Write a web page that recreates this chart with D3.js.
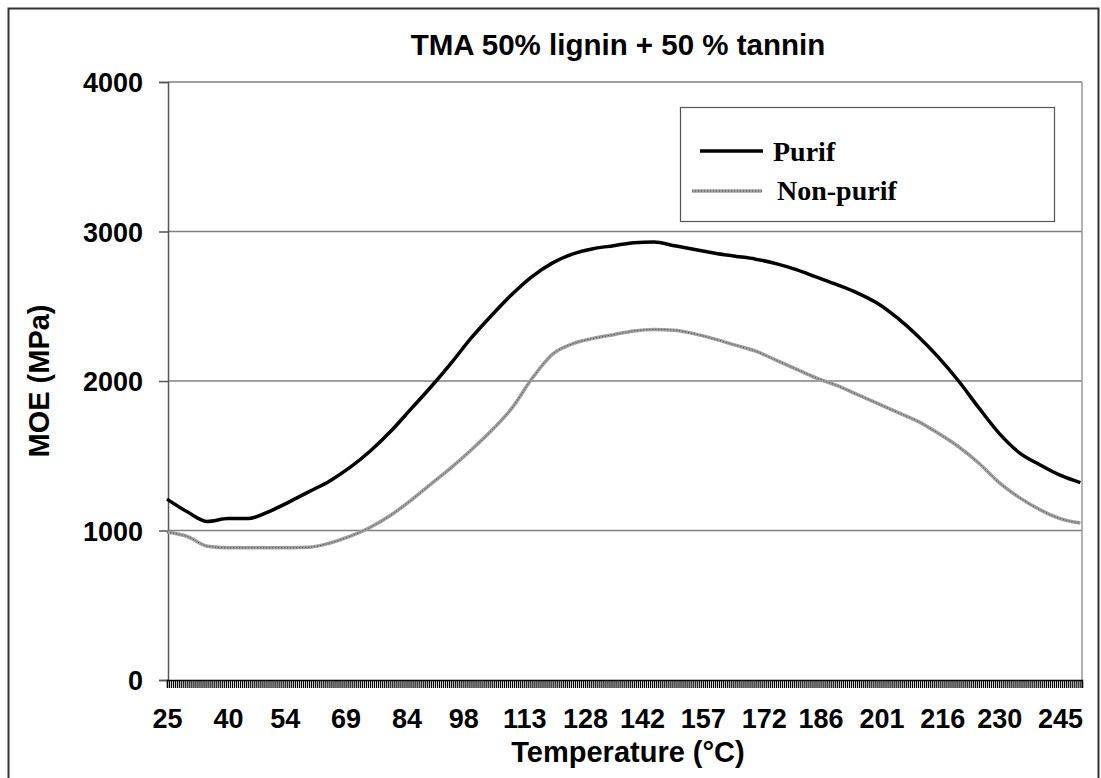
<!DOCTYPE html>
<html lang="en">
<head>
<meta charset="utf-8">
<title>TMA 50% lignin + 50 % tannin</title>
<script src="https://cdn.jsdelivr.net/npm/d3@7"></script>
<style>
  body { margin: 0; background: #fff; }
  text { font-family: Arial, "Liberation Sans", sans-serif; font-weight: bold; fill: #000; }
  .legend text { font-family: "Times New Roman", "Liberation Serif", serif; }
</style>
</head>
<body>
<script>
// temperature (°C) of each sample
var temps = [25, 30, 35, 40, 45, 50, 55, 60, 65, 70, 75, 80, 85, 90, 95, 100,
             105, 110, 115, 120, 125, 130, 135, 140, 145, 150, 155, 160, 165, 170,
             175, 180, 185, 190, 195, 200, 205, 210, 215, 220, 225, 230, 235, 240, 245, 250];
// MOE (MPa)
var purif = [1210, 1125, 1060, 1080, 1080, 1125, 1190, 1260, 1330, 1420, 1530, 1660, 1810, 1960, 2120,
             2290, 2440, 2580, 2700, 2790, 2850, 2885, 2905, 2925, 2930, 2905, 2880, 2855, 2835, 2815,
             2785, 2745, 2695, 2645, 2590, 2520, 2420, 2300, 2160, 2000, 1820, 1650, 1520, 1440, 1370, 1320];
var nonPurif = [990, 960, 895, 885, 885, 885, 885, 888, 915, 960, 1020, 1100, 1200, 1310, 1420,
                1540, 1670, 1820, 2020, 2180, 2250, 2285, 2310, 2335, 2345, 2340, 2315, 2280, 2240, 2200,
                2140, 2080, 2020, 1970, 1910, 1850, 1790, 1730, 1650, 1560, 1450, 1320, 1220, 1140, 1080, 1050];
var xTickLabels = [25, 40, 54, 69, 84, 98, 113, 128, 142, 157, 172, 186, 201, 216, 230, 245];
var yTicks = [0, 1000, 2000, 3000, 4000];
var seriesNames = ["Purif", "Non-purif"];

var W = 1101, H = 778;
var plotLeft = 168, plotRight = 1082, plotTop = 82, plotBottom = 680;

var svg = d3.select("body").append("svg")
    .attr("width", W)
    .attr("height", H);

// outer chart border (bottom runs off the picture)
svg.append("rect")
    .attr("x", 8.5).attr("y", 8.5)
    .attr("width", 1090).attr("height", 800)
    .attr("fill", "none")
    .attr("stroke", "#333")
    .attr("stroke-width", 2);

// the category axis ends a little after the last data point
var x = d3.scaleLinear().domain([25, 250.4]).range([plotLeft - 1, plotRight]);
var y = d3.scaleLinear().domain([0, 4000]).range([plotBottom, plotTop]);

// gridlines
svg.append("g")
    .selectAll("line")
    .data(yTicks.filter(function(d) { return d > 0; }))
    .enter().append("line")
    .attr("x1", plotLeft).attr("x2", plotRight)
    .attr("y1", function(d) { return y(d); })
    .attr("y2", function(d) { return y(d); })
    .attr("stroke", "#808080")
    .attr("stroke-width", 1.5);

// plot area right edge
svg.append("line")
    .attr("x1", plotRight).attr("x2", plotRight)
    .attr("y1", plotTop).attr("y2", plotBottom)
    .attr("stroke", "#999")
    .attr("stroke-width", 1.5);

// y axis
var yAxis = svg.append("g")
    .attr("transform", "translate(" + plotLeft + ",0)")
    .call(d3.axisLeft(y).tickValues(yTicks).tickSize(9).tickPadding(16).tickFormat(d3.format("d")));
yAxis.select(".domain").attr("stroke", "#555").attr("stroke-width", 1.5);
yAxis.selectAll(".tick line").attr("stroke", "#555").attr("stroke-width", 1.5);
yAxis.selectAll("text").style("font-size", "27px").attr("dy", "0.36em");

// x axis: dense category ticks, labels every ~14.7 °C
var minor = d3.range(25, 250.4, 0.5);
var xMinor = svg.append("g")
    .attr("transform", "translate(0," + plotBottom + ")")
    .call(d3.axisBottom(x).tickValues(minor).tickSize(8).tickFormat(""));
xMinor.select(".domain").attr("stroke", "#000").attr("stroke-width", 1.5);
xMinor.selectAll(".tick line").attr("stroke", "#000").attr("stroke-width", 1.2);

var xLab = svg.append("g")
    .attr("transform", "translate(0," + plotBottom + ")")
    .call(d3.axisBottom(x).tickValues(xTickLabels).tickSize(0).tickPadding(40).tickFormat(d3.format("d")));
xLab.select(".domain").remove();
xLab.selectAll("text").style("font-size", "27px").attr("dy", "0.3em");

// lines
var line = d3.line()
    .x(function(d, i) { return x(temps[i]); })
    .y(function(d) { return y(d); })
    .curve(d3.curveMonotoneX);

svg.append("path")
    .datum(nonPurif)
    .attr("d", line)
    .attr("fill", "none")
    .attr("stroke", "#a0a0a0")
    .attr("stroke-width", 3.5);
svg.append("path")
    .datum(nonPurif)
    .attr("d", line)
    .attr("fill", "none")
    .attr("stroke", "#444")
    .attr("stroke-width", 1)
    .attr("stroke-dasharray", "1,2");

svg.append("path")
    .datum(purif)
    .attr("d", line)
    .attr("fill", "none")
    .attr("stroke", "#000")
    .attr("stroke-width", 3.5)
    .attr("stroke-linejoin", "round");

// title and axis titles
svg.append("text")
    .attr("x", 618).attr("y", 55)
    .attr("text-anchor", "middle")
    .style("font-size", "29.5px")
    .text("TMA 50% lignin + 50 % tannin");

svg.append("text")
    .attr("x", 628).attr("y", 762)
    .attr("text-anchor", "middle")
    .style("font-size", "29px")
    .text("Temperature (°C)");

svg.append("text")
    .attr("transform", "translate(49,381) rotate(-90)")
    .attr("text-anchor", "middle")
    .style("font-size", "29px")
    .text("MOE (MPa)");

// legend
var lg = svg.append("g").attr("class", "legend");
lg.append("rect")
    .attr("x", 680.5).attr("y", 107.5)
    .attr("width", 374).attr("height", 114)
    .attr("fill", "#fff")
    .attr("stroke", "#555")
    .attr("stroke-width", 1.2);

lg.append("line")
    .attr("x1", 700).attr("x2", 763).attr("y1", 151).attr("y2", 151)
    .attr("stroke", "#000").attr("stroke-width", 3.5);
lg.append("text")
    .attr("x", 773).attr("y", 161)
    .style("font-size", "28px")
    .text(seriesNames[0]);

lg.append("line")
    .attr("x1", 692).attr("x2", 762).attr("y1", 191).attr("y2", 191)
    .attr("stroke", "#a0a0a0").attr("stroke-width", 3.5);
lg.append("line")
    .attr("x1", 692).attr("x2", 762).attr("y1", 191).attr("y2", 191)
    .attr("stroke", "#444").attr("stroke-width", 1).attr("stroke-dasharray", "1,2");
lg.append("text")
    .attr("x", 777).attr("y", 200)
    .style("font-size", "28px")
    .text(seriesNames[1]);
</script>
</body>
</html>
